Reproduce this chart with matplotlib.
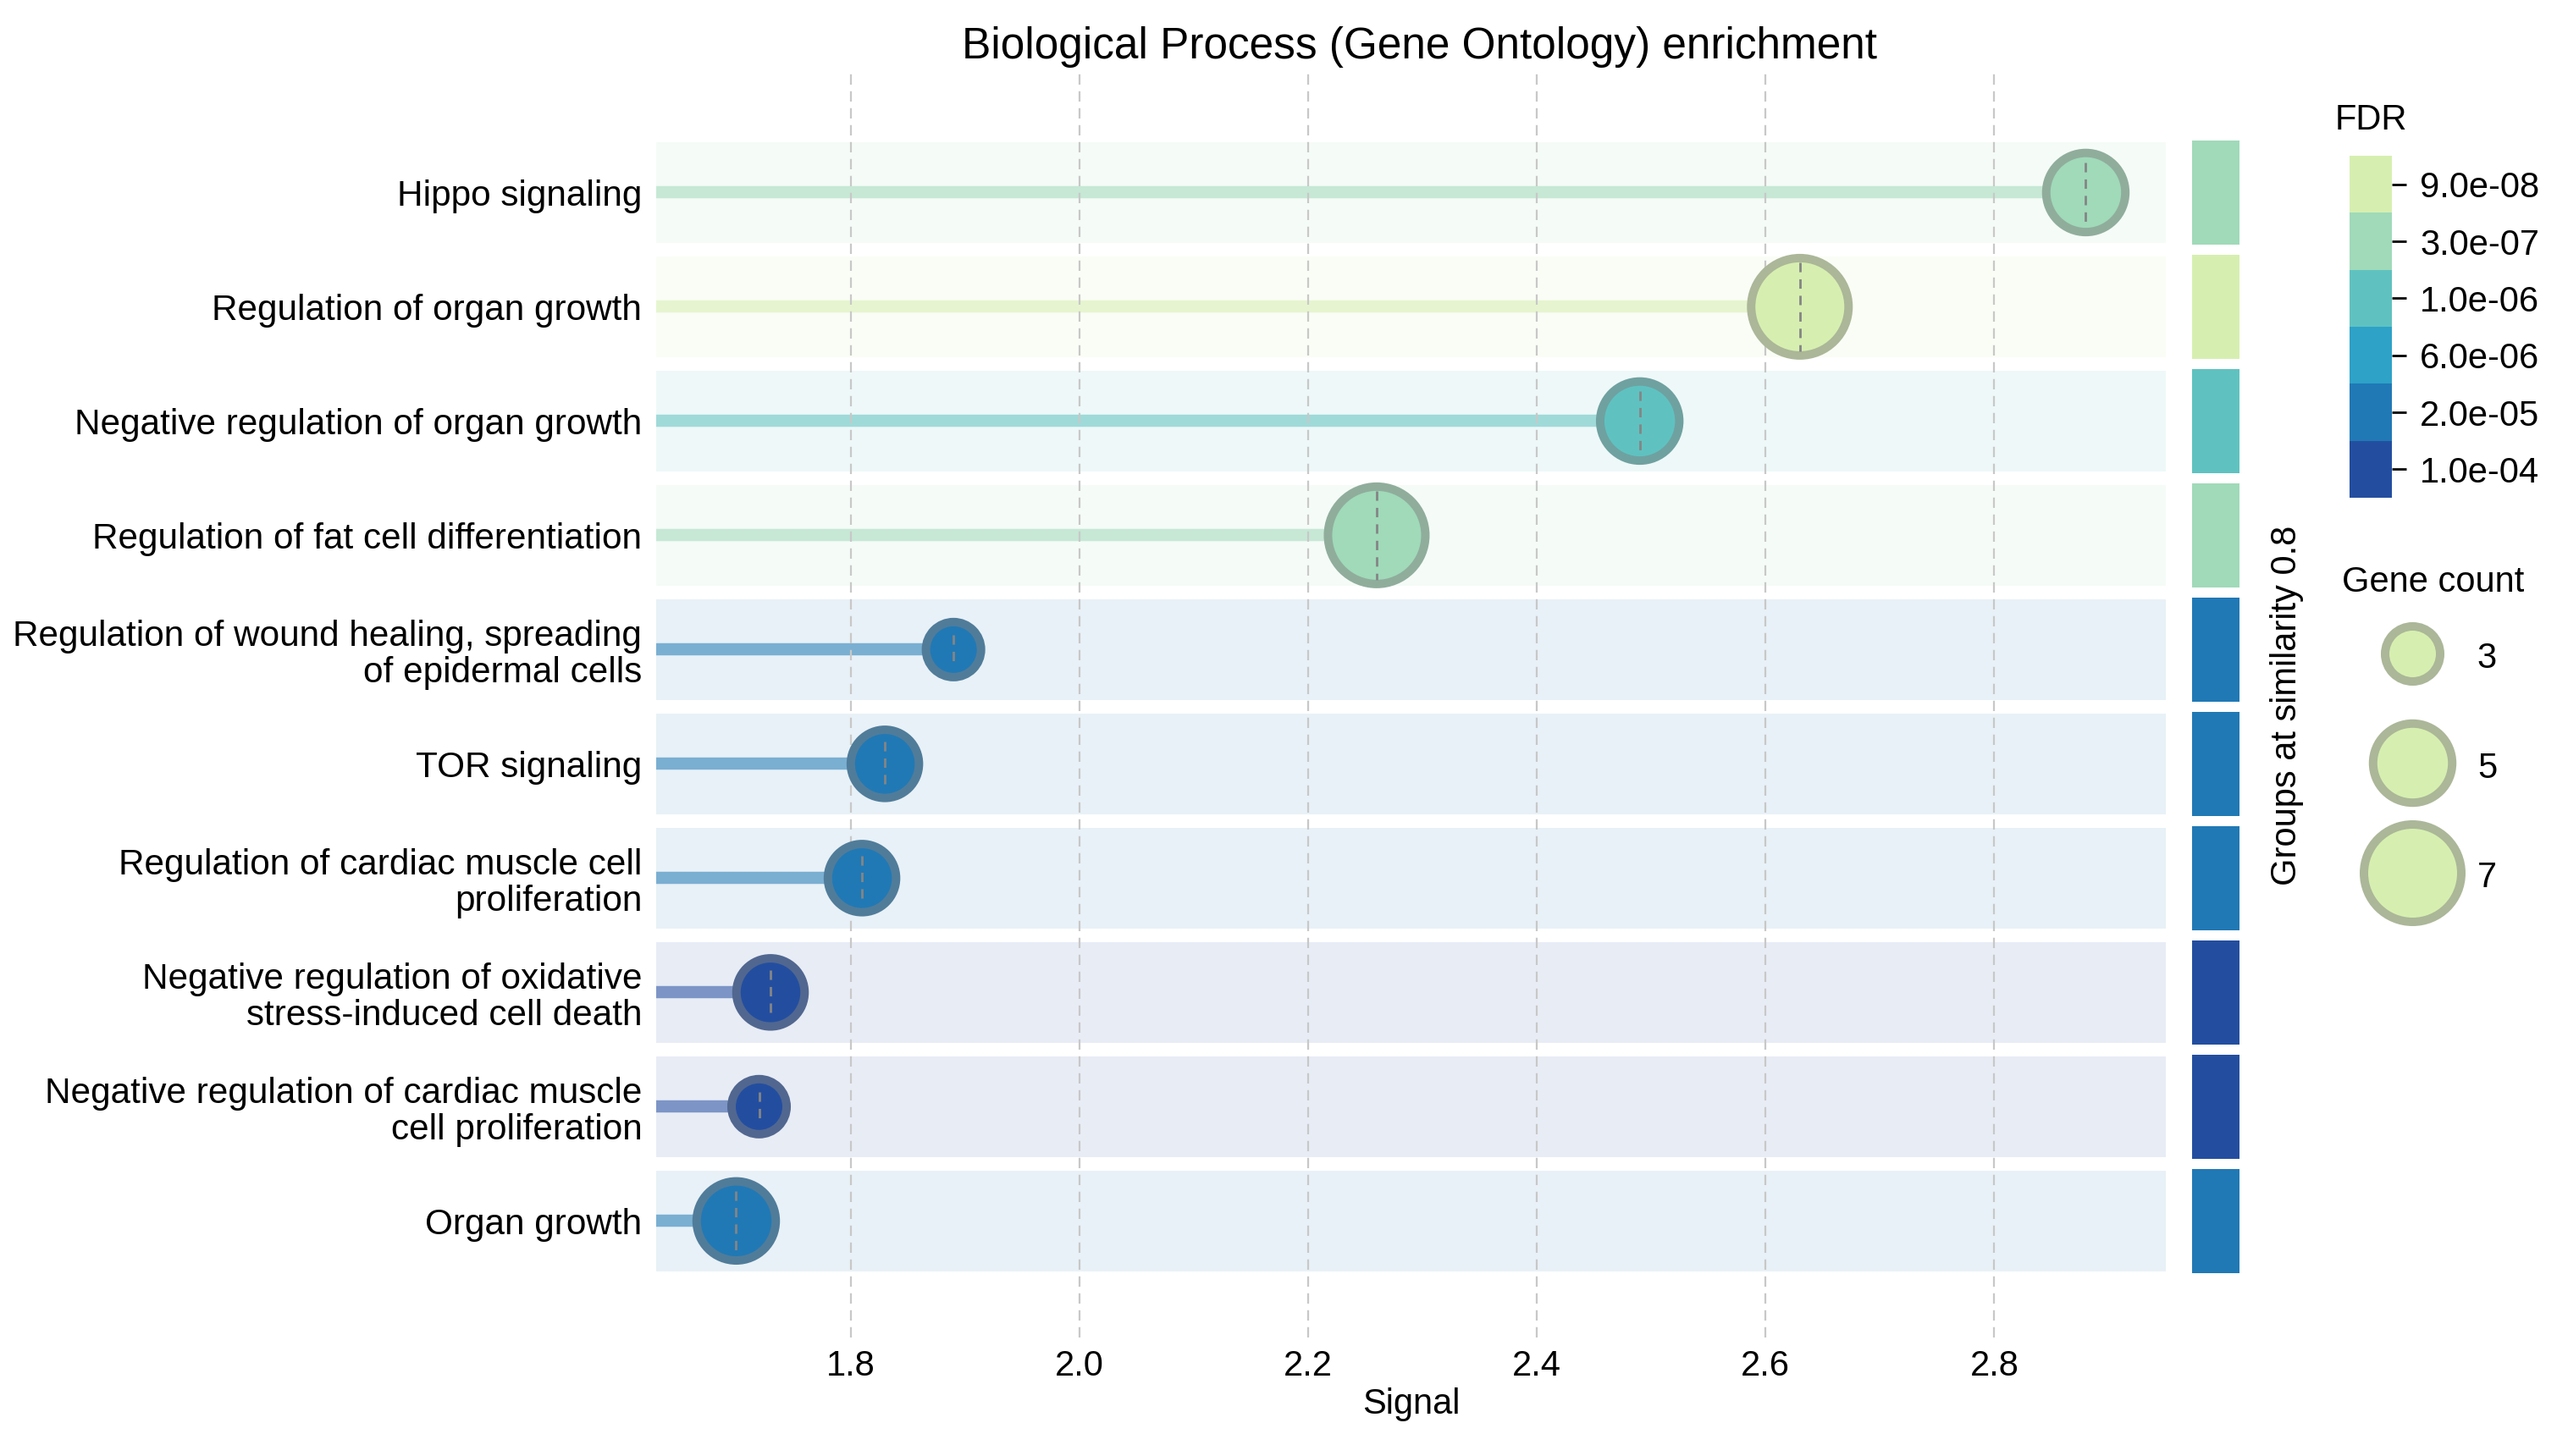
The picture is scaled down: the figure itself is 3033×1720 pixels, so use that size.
import matplotlib
matplotlib.use('Agg')
import matplotlib.pyplot as plt
import matplotlib.cm as cm
import numpy as np
from matplotlib.colors import ListedColormap, BoundaryNorm, to_rgb
from matplotlib.lines import Line2D
from matplotlib.legend_handler import HandlerLine2D

plt.rcParams['font.family'] = ['Liberation Sans', 'DejaVu Sans']

# Data
terms = ['Hippo signaling',
         'Regulation of organ growth',
         'Negative regulation of organ growth',
         'Regulation of fat cell differentiation',
         'Regulation of wound healing, spreading\nof epidermal cells',
         'TOR signaling',
         'Regulation of cardiac muscle cell\nproliferation',
         'Negative regulation of oxidative\nstress-induced cell death',
         'Negative regulation of cardiac muscle\ncell proliferation',
         'Organ growth']
signal = [2.88, 2.63, 2.49, 2.26, 1.89, 1.83, 1.81, 1.73, 1.72, 1.70]
gene_count = [5, 7, 5, 7, 3, 4, 4, 4, 3, 5]
fdr = [3.0e-07, 9.0e-08, 1.0e-06, 3.0e-07, 2.0e-05, 2.0e-05, 2.0e-05, 1.0e-04, 1.0e-04, 2.0e-05]

fdr_levels = [9.0e-08, 3.0e-07, 1.0e-06, 6.0e-06, 2.0e-05, 1.0e-04]
fdr_labels = ['9.0e-08', '3.0e-07', '1.0e-06', '6.0e-06', '2.0e-05', '1.0e-04']
fdr_colors = ['#d6efb0', '#a0dab9', '#5fc2c0', '#2ea2c7', '#2079b5', '#234ea0']
size_legend = [3, 5, 7]
xticks = [1.8, 2.0, 2.2, 2.4, 2.6, 2.8]
x_min, x_max = 1.63, 2.95


def color_for(v):
    i = int(np.argmin(np.abs(np.log10(fdr_levels) - np.log10(v))))
    return fdr_colors[i]


def edge_for(c):
    r, g, b = to_rgb(c)
    return (0.5 * r + 0.25, 0.5 * g + 0.25, 0.5 * b + 0.25)


def marker_area(n):
    # area grows linearly with gene count
    return np.interp(n, [3, 7], [548, 1714])


class CenteredMarker(HandlerLine2D):
    # put the legend circle level with the middle of its label
    def create_artists(self, legend, orig_handle, xdescent, ydescent, width, height,
                       fontsize, trans):
        return super().create_artists(legend, orig_handle, xdescent,
                                      ydescent + 0.84 * fontsize, width, height,
                                      fontsize, trans)


row_colors = [color_for(v) for v in fdr]
y = np.arange(len(terms))

fig = plt.figure(figsize=(15.165, 8.6), dpi=200)
ax = fig.add_axes([0.2555, 0.0814, 0.5879, 0.868])

# row bands
ax.barh(y, x_max - x_min, left=x_min, height=0.88, color=row_colors, alpha=0.1, zorder=0)
ax.grid(axis='x', color='#c8c8c8', linewidth=0.8, linestyle=(0, (5.5, 3.5)), zorder=1)
ax.set_axisbelow(False)
for i in range(len(terms)):
    ax.hlines(y[i], x_min, signal[i], color=row_colors[i], alpha=0.55, linewidth=5.2,
              capstyle='butt', zorder=2)
ax.scatter(signal, y, s=[marker_area(n) for n in gene_count], c=row_colors,
           edgecolors=[edge_for(c) for c in row_colors], linewidths=3.6, zorder=3)
half = [0.065 * (n - 1) for n in gene_count]
ax.vlines(signal, y - np.array(half), y + np.array(half), color='#858585',
          linewidth=1.0, linestyle=(0, (4, 3)), zorder=4)

ax.set_xlim(x_min, x_max)
ax.set_ylim(len(terms) - 1 + 1.02, -1.04)
ax.set_xticks(xticks)
ax.set_xticklabels(['%.1f' % t for t in xticks])
ax.set_yticks(y)
ax.set_yticklabels(terms, linespacing=1.1)
ax.tick_params(axis='y', length=0, pad=6, labelsize=15.2)
ax.tick_params(axis='x', length=0, pad=5, labelsize=15)
ax.set_xlabel('Signal', fontsize=15, labelpad=2)
for s in ax.spines.values():
    s.set_visible(False)

# group strip
ax_s = fig.add_axes([0.8536, 0.0814, 0.01846, 0.868], sharey=ax)
ax_s.barh(y, 1, height=0.915, color=row_colors)
ax_s.set_xlim(0, 1)
ax_s.tick_params(left=False, labelleft=False, bottom=False, labelbottom=False)
for s in ax_s.spines.values():
    s.set_visible(False)
ax_s.yaxis.set_label_position('right')
ax_s.set_ylabel('Groups at similarity 0.8', fontsize=15, labelpad=13)

fig.text(0.5526, 0.968, 'Biological Process (Gene Ontology) enrichment',
         ha='center', va='center', fontsize=18.5)

# FDR colorbar
cax = fig.add_axes([0.9149, 0.6581, 0.01649, 0.2349])
cmap = ListedColormap(fdr_colors[::-1])
norm = BoundaryNorm(np.arange(len(fdr_colors) + 1), len(fdr_colors))
cb = fig.colorbar(cm.ScalarMappable(norm=norm, cmap=cmap), cax=cax,
                  ticks=np.arange(len(fdr_colors)) + 0.5)
cb.set_ticklabels(fdr_labels[::-1])
cb.minorticks_off()
cb.outline.set_visible(False)
cax.tick_params(length=6, width=1, labelsize=15, pad=6)
fig.text(2758 / 3033, 1 - 142 / 1720, 'FDR', ha='left', va='center', fontsize=15)

# gene count legend
handles = [Line2D([], [], linestyle='', marker='o', markersize=np.sqrt(marker_area(n)),
                  markerfacecolor=fdr_colors[0], markeredgecolor=edge_for(fdr_colors[0]),
                  markeredgewidth=3.6) for n in size_legend]
fig.legend(handles, [str(n) for n in size_legend], title='Gene count',
           loc='upper center', bbox_to_anchor=(2874 / 3033, 0.6236), frameon=False,
           fontsize=15, title_fontsize=15, handleheight=4.0, labelspacing=0.26,
           handlelength=2.4, handletextpad=0.65, borderpad=0,
           handler_map={Line2D: CenteredMarker()})

fig.savefig('out.png', dpi=200)
